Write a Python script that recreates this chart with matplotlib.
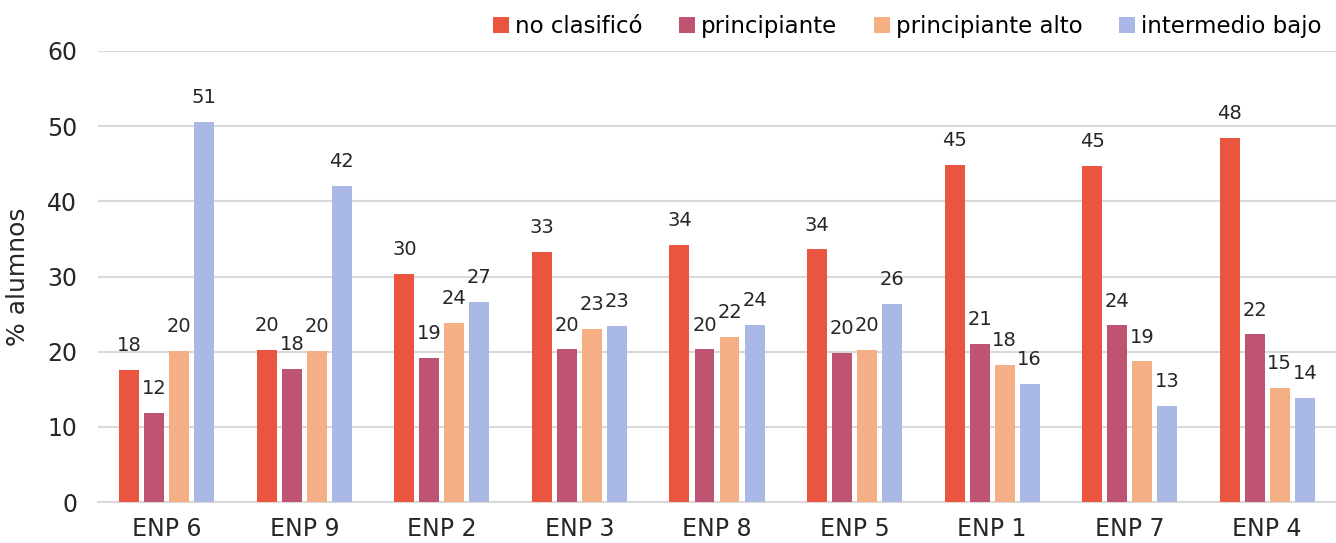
import matplotlib
matplotlib.use("Agg")
import matplotlib.pyplot as plt
import numpy as np

schools = ["ENP 6", "ENP 9", "ENP 2", "ENP 3", "ENP 8", "ENP 5", "ENP 1", "ENP 7", "ENP 4"]
series_names = ["no clasificó", "principiante", "principiante alto", "intermedio bajo"]

no_clasifico = [17.6, 20.2, 30.3, 33.3, 34.2, 33.6, 44.8, 44.7, 48.4]
principiante = [11.8, 17.7, 19.2, 20.3, 20.3, 19.8, 21.0, 23.5, 22.3]
principiante_alto = [20.1, 20.1, 23.8, 23.0, 22.0, 20.2, 18.2, 18.7, 15.2]
intermedio_bajo = [50.6, 42.0, 26.6, 23.4, 23.6, 26.4, 15.7, 12.8, 13.9]

COLORS = ["#EA553F", "#BF5372", "#F4AF84", "#A9B8E5"]
GRID = "#D9D9D9"
TEXT = "#262626"

plt.rcParams["font.family"] = ["DejaVu Sans"]

fig = plt.figure(figsize=(13.36, 5.43), dpi=100)
ax = fig.add_axes([98 / 1336, 1 - 502 / 543, 1238 / 1336, 451 / 543])

x = np.arange(len(schools))
width = 0.145
step = 0.182
all_series = [no_clasifico, principiante, principiante_alto, intermedio_bajo]
for i, (vals, name, col) in enumerate(zip(all_series, series_names, COLORS)):
    pos = x + (i - 1.5) * step
    bars = ax.bar(pos, vals, width=width, color=col, label=name, zorder=3)
    for b, v in zip(bars, vals):
        ax.annotate(f"{v:.0f}", (b.get_x() + b.get_width() / 2, v),
                    xytext=(0, 17.5), textcoords="offset points",
                    ha="center", va="center", fontsize=14, color=TEXT)

ax.set_xlim(-0.5, len(schools) - 0.5)
ax.set_ylim(0, 60)
ax.set_yticks(range(0, 61, 10))
ax.set_xticks(x)
ax.set_xticklabels(schools)
ax.tick_params(axis="both", length=0, labelsize=17, colors=TEXT)
ax.tick_params(axis="x", pad=11)
ax.tick_params(axis="y", pad=15)
ax.grid(axis="y", color=GRID, linewidth=1.5, zorder=0)
for s in ["top", "right", "left"]:
    ax.spines[s].set_visible(False)
ax.spines["bottom"].set_color(GRID)
ax.spines["bottom"].set_linewidth(1.5)
ax.set_ylabel("% alumnos", fontsize=18, color=TEXT, labelpad=12)

fig.legend(loc="upper right", bbox_to_anchor=(1.0, 1.0), ncol=4, frameon=False,
           fontsize=16.5, handlelength=0.7, handleheight=0.7, handletextpad=0.25,
           columnspacing=1.6, borderaxespad=0.25)

fig.savefig("out.png", dpi=100)
